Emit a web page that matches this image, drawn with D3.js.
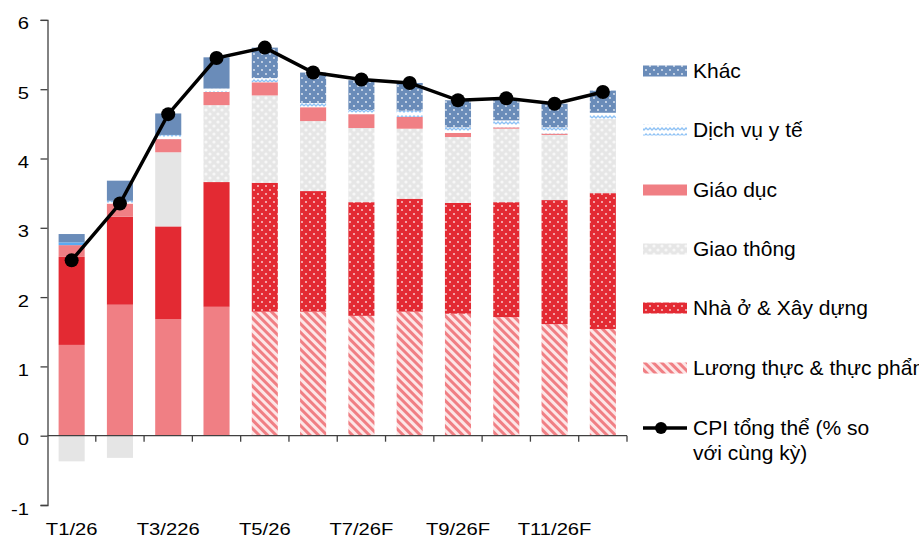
<!DOCTYPE html>
<html lang="vi">
<meta charset="utf-8">
<head>
    <script src='https://d3js.org/d3.v7.min.js'></script>
    <style>
        body { margin: 0; background: #fff; }
        text { font-family: "Liberation Sans", Arial, sans-serif; }
    </style>
</head>
<body>
<script>
    // months and the labels shown under the axis
    var months = ["T1/26", "T2/26", "T3/226", "T4/26", "T5/26", "T6/26F",
                  "T7/26F", "T8/26F", "T9/26F", "T10/26F", "T11/26F", "T12/26F"];
    var tickLabels = ["T1/26", "T3/226", "T5/26", "T7/26F", "T9/26F", "T11/26F"];
    var yTicks = [-1, 0, 1, 2, 3, 4, 5, 6];

    // contributions (percentage points)
    var luongThuc = [1.31, 1.89, 1.68, 1.86, 1.79, 1.79, 1.73, 1.79, 1.76, 1.71, 1.61, 1.54];
    var nhaO      = [1.27, 1.27, 1.34, 1.80, 1.86, 1.74, 1.64, 1.63, 1.60, 1.66, 1.79, 1.96];
    var giaoThong = [-0.37, -0.32, 1.07, 1.11, 1.26, 1.01, 1.07, 1.01, 0.95, 1.06, 0.94, 1.07];
    var giaoDuc   = [0.17, 0.19, 0.19, 0.19, 0.19, 0.20, 0.20, 0.17, 0.06, 0.02, 0.02, 0.00];
    var yTe       = [0.04, 0.04, 0.06, 0.05, 0.06, 0.06, 0.06, 0.09, 0.08, 0.10, 0.09, 0.09];
    var khac      = [0.12, 0.29, 0.31, 0.45, 0.44, 0.44, 0.43, 0.40, 0.39, 0.30, 0.34, 0.32];
    var cpi       = [2.53, 3.35, 4.64, 5.45, 5.60, 5.24, 5.14, 5.09, 4.84, 4.87, 4.79, 4.96];

    // series in stacking order; months before "from" are drawn with the plain colour
    var series = [
        {key: "luongThuc", name: "Lương thực & thực phẩm", values: luongThuc, solid: "#f07f84", pattern: "url(#hatch)", from: 4},
        {key: "nhaO", name: "Nhà ở & Xây dựng", values: nhaO, solid: "#e32a33", pattern: "url(#reddots)", from: 4},
        {key: "giaoThong", name: "Giao thông", values: giaoThong, solid: "#e5e5e5", pattern: "url(#greydots)", from: 3},
        {key: "giaoDuc", name: "Giáo dục", values: giaoDuc, solid: "#f07f84", pattern: "#f07f84", from: 0},
        {key: "yTe", name: "Dịch vụ y tế", values: yTe, solid: "#5aaaf2", pattern: "url(#wave)", from: 1},
        {key: "khac", name: "Khác", values: khac, solid: "#6a8cb9", pattern: "url(#bluedots)", from: 4}
    ];

    var width = 919, height = 538;
    var axisFont = 16.3, axisStretch = 1.24, legendFont = 21;

    var svg = d3.select("body").append("svg")
        .attr("width", width)
        .attr("height", height);

    // patterns
    var defs = svg.append("defs");

    var hatch = defs.append("pattern").attr("id", "hatch")
        .attr("patternUnits", "userSpaceOnUse")
        .attr("width", 6).attr("height", 6)
        .attr("patternTransform", "rotate(-45)");
    hatch.append("rect").attr("width", 6).attr("height", 6).attr("fill", "#fde6e7");
    hatch.append("rect").attr("width", 3).attr("height", 6).attr("fill", "#f07f84");

    function dots(id, bg, dot, r) {
        var p = defs.append("pattern").attr("id", id)
            .attr("patternUnits", "userSpaceOnUse")
            .attr("width", 8).attr("height", 8);
        p.append("rect").attr("width", 8).attr("height", 8).attr("fill", bg);
        p.append("circle").attr("cx", 2).attr("cy", 2).attr("r", r).attr("fill", dot);
        p.append("circle").attr("cx", 6).attr("cy", 6).attr("r", r).attr("fill", dot);
    }
    dots("reddots", "#e32a33", "#f8c8ca", 1);
    dots("bluedots", "#6a8cb9", "#e8eef6", 0.9);
    dots("greydots", "#e6e6e6", "#f7f7f7", 1.6);

    var wave = defs.append("pattern").attr("id", "wave")
        .attr("patternUnits", "userSpaceOnUse")
        .attr("width", 8).attr("height", 6);
    wave.append("rect").attr("width", 8).attr("height", 6).attr("fill", "#ffffff");
    wave.append("path").attr("d", "M0,4 L2,2 L4,4 L6,2 L8,4")
        .attr("fill", "none").attr("stroke", "#8ec2f5").attr("stroke-width", 1.3);

    // scales
    var x = d3.scaleBand()
        .domain(months)
        .range([47.5, 627])
        .paddingInner(0.46)
        .paddingOuter(0.23);

    var y = d3.scaleLinear()
        .domain([-1, 6])
        .range([505, 19.9]);

    // stack data
    var table = months.map(function(m, i) {
        var row = {month: m, index: i};
        series.forEach(function(s) { row[s.key] = s.values[i]; });
        return row;
    });

    var stacked = d3.stack()
        .keys(series.map(function(s) { return s.key; }))
        .offset(d3.stackOffsetDiverging)(table);

    var layers = svg.append("g").selectAll("g")
        .data(stacked)
        .enter()
        .append("g");

    layers.selectAll("rect")
        .data(function(layer) {
            var s = series[layer.index];
            return layer.map(function(d) { return {d: d, s: s}; });
        })
        .enter()
        .append("rect")
        .attr("x", function(e) { return x(e.d.data.month); })
        .attr("width", x.bandwidth())
        .attr("y", function(e) { return y(Math.max(e.d[0], e.d[1])); })
        .attr("height", function(e) { return Math.abs(y(e.d[0]) - y(e.d[1])); })
        .attr("fill", function(e) {
            return e.d.data.index < e.s.from ? e.s.solid : e.s.pattern;
        });

    // y axis (labels drawn separately, slightly wide like the original)
    var yAxis = svg.append("g")
        .attr("transform", "translate(47.5,0)")
        .call(d3.axisLeft(y).tickValues(yTicks).tickSize(7).tickFormat(""));
    yAxis.select(".domain").attr("stroke", "#404040").attr("stroke-width", 1.3);
    yAxis.selectAll(".tick line").attr("stroke", "#404040").attr("stroke-width", 1.3);

    svg.append("g").selectAll("text")
        .data(yTicks)
        .enter()
        .append("text")
        .attr("transform", function(d) { return "translate(29," + (y(d) + 9.5) + ") scale(" + axisStretch + ",1)"; })
        .attr("text-anchor", "end")
        .attr("font-size", axisFont)
        .attr("fill", "#000")
        .text(function(d) { return d; });

    // zero line with boundary ticks
    var step = x.step();
    var zero = svg.append("g");
    zero.append("line")
        .attr("x1", 47.5).attr("x2", 627)
        .attr("y1", y(0)).attr("y2", y(0))
        .attr("stroke", "#404040").attr("stroke-width", 1.3);
    zero.selectAll(".bt")
        .data(months)
        .enter()
        .append("line")
        .attr("x1", function(m) { return x(m) + x.bandwidth() + (step - x.bandwidth()) / 2; })
        .attr("x2", function(m) { return x(m) + x.bandwidth() + (step - x.bandwidth()) / 2; })
        .attr("y1", y(0)).attr("y2", y(0) + 6)
        .attr("stroke", "#404040").attr("stroke-width", 1.3);

    // month labels (every other month)
    svg.append("g").selectAll("text")
        .data(tickLabels)
        .enter()
        .append("text")
        .attr("transform", function(t, i) {
            return "translate(" + (x(months[i * 2]) + x.bandwidth() / 2) + ",535) scale(" + axisStretch + ",1)";
        })
        .attr("text-anchor", "middle")
        .attr("font-size", axisFont)
        .attr("fill", "#000")
        .text(function(t) { return t; });

    // CPI line
    var line = d3.line()
        .x(function(d, i) { return x(months[i]) + x.bandwidth() / 2; })
        .y(function(d) { return y(d); });

    svg.append("path")
        .datum(cpi)
        .attr("d", line)
        .attr("fill", "none")
        .attr("stroke", "#000")
        .attr("stroke-width", 3.5);

    svg.append("g").selectAll("circle")
        .data(cpi)
        .enter()
        .append("circle")
        .attr("cx", function(d, i) { return x(months[i]) + x.bandwidth() / 2; })
        .attr("cy", function(d) { return y(d); })
        .attr("r", 7)
        .attr("fill", "#000");

    // legend, top to bottom: reversed stack order then CPI
    var legendItems = series.slice().reverse();
    var legend = svg.append("g");
    var rowY = [71, 130, 190, 249, 308, 368];

    legendItems.forEach(function(s, i) {
        legend.append("rect")
            .attr("x", 643).attr("y", rowY[i] - 5.5)
            .attr("width", 44).attr("height", 11)
            .attr("fill", s.key == "giaoDuc" ? s.solid : s.pattern);
        legend.append("text")
            .attr("x", 693).attr("y", rowY[i] + 6.5)
            .attr("font-size", legendFont)
            .text(s.name);
    });

    legend.append("line")
        .attr("x1", 643).attr("x2", 687)
        .attr("y1", 428).attr("y2", 428)
        .attr("stroke", "#000").attr("stroke-width", 3.5);
    legend.append("circle")
        .attr("cx", 661).attr("cy", 428).attr("r", 6).attr("fill", "#000");
    legend.append("text")
        .attr("x", 693).attr("y", 435)
        .attr("font-size", legendFont)
        .text("CPI tổng thể (% so");
    legend.append("text")
        .attr("x", 693).attr("y", 460)
        .attr("font-size", legendFont)
        .text("với cùng kỳ)");
</script>
</body>
</html>
